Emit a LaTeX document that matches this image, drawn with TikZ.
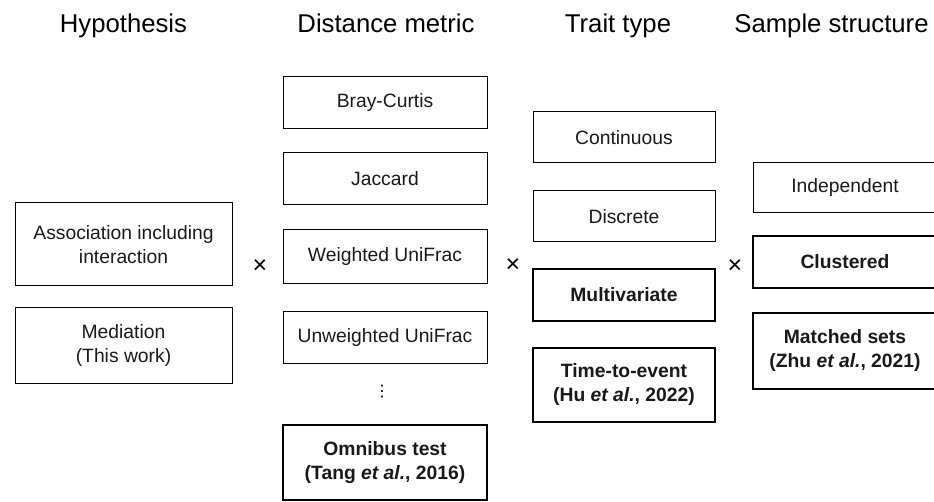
\documentclass[tikz,border=0pt]{standalone}
\usepackage{fontspec}
\setmainfont{Liberation Sans}
\newfontfamily\symfont{DejaVu Sans}

\begin{document}
\begin{tikzpicture}[x=1pt, y=-1pt,
        box/.style={draw, line width=1pt, inner sep=0pt, align=center, text=black!90, font=\fontsize{19.3}{24}\selectfont},
        boldbox/.style={box, line width=2pt, font=\fontsize{19.3}{24}\selectfont\bfseries},
        heading/.style={anchor=base, font=\fontsize{25.7}{30}\selectfont},
        times/.style={font=\fontsize{25}{30}\selectfont}]
        \useasboundingbox (0, 0) rectangle (934, 502);

        % column titles
        \node[heading] (thyp) at (123.5, 33) {Hypothesis};
        \node[heading] (tdist) at (386, 33) {Distance metric};
        \node[heading] (ttrait) at (618, 33) {Trait type};
        \node[heading] (tsample) at (831.5, 33) {Sample structure};

        % hypothesis
        \node[box, minimum width=217pt, minimum height=83pt] (assoc) at (123.5, 244.5) {Association including\\interaction};
        \node[box, minimum width=217pt, minimum height=75pt] (med) at (123.5, 345.5) {Mediation\\(This work)};
        \node[times] (x1) at (260, 267) {×};

        % distance metric
        \node[box, minimum width=204pt, minimum height=52pt] (bray) at (385, 103) {Bray-Curtis};
        \node[box, minimum width=204pt, minimum height=52pt] (jacc) at (385, 178.5) {Jaccard};
        \node[box, minimum width=204pt, minimum height=54pt] (wuni) at (385, 257) {Weighted UniFrac};
        \node[box, minimum width=204pt, minimum height=52pt] (uuni) at (385, 337.5) {Unweighted UniFrac};
        \node[font=\symfont\fontsize{16}{16}\selectfont] (dots) at (382, 392) {⋮};
        \node[boldbox, minimum width=204pt, minimum height=75pt] (omni) at (385, 462.5) {Omnibus test\\(Tang \textit{et al.}, 2016)};
        \node[times] (x2) at (513, 266) {×};

        % trait type
        \node[box, minimum width=182pt, minimum height=51pt] (cont) at (624, 137.5) {Continuous};
        \node[box, minimum width=182pt, minimum height=51pt] (disc) at (624, 216.5) {Discrete};
        \node[boldbox, minimum width=182pt, minimum height=52pt] (multi) at (624, 295) {Multivariate};
        \node[boldbox, minimum width=182pt, minimum height=74pt] (tte) at (624, 385) {Time-to-event\\(Hu \textit{et al.}, 2022)};
        \node[times] (x3) at (735, 267) {×};

        % sample structure
        \node[box, minimum width=184pt, minimum height=50pt] (indep) at (845, 188) {Independent};
        \node[boldbox, minimum width=184pt, minimum height=52pt] (clust) at (845, 262) {Clustered};
        \node[boldbox, minimum width=184pt, minimum height=76pt] (match) at (845, 351) {Matched sets\\(Zhu \textit{et al.}, 2021)};

    \end{tikzpicture}
\end{document}
